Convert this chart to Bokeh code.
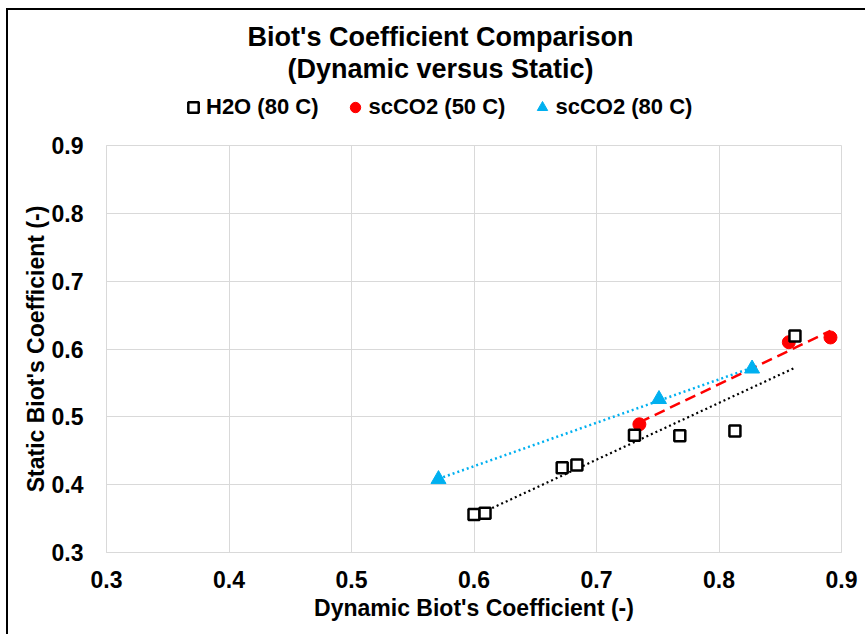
import numpy as np
from bokeh.plotting import figure
from bokeh.layouts import column
from bokeh.models import (Range1d, FixedTicker, PrintfTickFormatter, Label,
                          Legend, LegendItem)
from bokeh.embed import file_html
from bokeh.resources import INLINE

# ---- data ----
h2o_x = [0.600, 0.609, 0.672, 0.684, 0.731, 0.768, 0.813, 0.862]
h2o_y = [0.356, 0.358, 0.425, 0.429, 0.473, 0.472, 0.479, 0.619]
co2_50_x = [0.735, 0.857, 0.891]
co2_50_y = [0.489, 0.610, 0.617]
co2_80_x = [0.571, 0.751, 0.827]
co2_80_y = [0.408, 0.526, 0.571]
ticks = [0.3, 0.4, 0.5, 0.6, 0.7, 0.8, 0.9]

title_1 = "Biot's Coefficient Comparison"
title_2 = "(Dynamic versus Static)"
names = ["H2O (80 C)", "scCO2 (50 C)", "scCO2 (80 C)"]

FONT = "Liberation Sans"
GRID = "#d9d9d9"
RED = "#ff0000"
BLUE = "#00b0f0"

SQ = dict(marker="square", fill_color="white", line_color="black", line_width=2.5)
CI = dict(marker="circle", fill_color=RED, line_color=RED, line_width=1)
TR = dict(marker="triangle", fill_color=BLUE, line_color=BLUE, line_width=1)

# ---------------- header: title + legend ----------------
W = 857
HEAD_H = 115
head = figure(width=W, height=HEAD_H, output_backend="svg", toolbar_location=None,
              x_range=Range1d(1000, 1000 + W), y_range=Range1d(1000, 1000 + HEAD_H),
              x_axis_type=None, y_axis_type=None, title=None,
              min_border=0, min_border_left=0, min_border_right=0,
              min_border_top=0, min_border_bottom=0)
head.outline_line_color = None
head.xgrid.visible = False
head.ygrid.visible = False

# legend renderers (series data lie outside this header's ranges)
h_sq = head.scatter(h2o_x, h2o_y, size=11, **SQ)
h_ci = head.scatter(co2_50_x, co2_50_y, size=13, **CI)
h_tr = head.scatter(co2_80_x, co2_80_y, size=15, **TR)

legend = Legend(items=[LegendItem(label=names[0], renderers=[h_sq]),
                       LegendItem(label=names[1], renderers=[h_ci]),
                       LegendItem(label=names[2], renderers=[h_tr])],
                orientation="horizontal", location=(74, 5),
                padding=0, margin=0, spacing=24,
                glyph_width=26, glyph_height=26, label_height=22,
                label_standoff=0, border_line_color=None,
                background_fill_alpha=0,
                label_text_font=FONT, label_text_font_size="22px",
                label_text_font_style="bold", label_text_color="black",
                label_text_baseline="middle")
head.add_layout(legend, "center")

for txt, yy in ((title_1, 89), (title_2, 57)):
    head.add_layout(Label(x=334, y=yy, x_units="screen", y_units="screen",
                          text=txt, text_font=FONT, text_font_size="27px",
                          text_font_style="bold", text_align="center",
                          text_baseline="middle", text_color="black"))

# ---------------- main scatter chart ----------------
p = figure(width=W, height=624 - HEAD_H, output_backend="svg", toolbar_location=None,
           x_range=Range1d(0.3, 0.9), y_range=Range1d(0.3, 0.9),
           min_border_left=98, min_border_right=24, min_border_top=20,
           min_border_bottom=82, title=None)
p.outline_line_color = GRID

for ax in (p.xaxis[0], p.yaxis[0]):
    ax.ticker = FixedTicker(ticks=ticks)
    ax.formatter = PrintfTickFormatter(format="%.1f")
    ax.major_tick_line_color = None
    ax.minor_tick_line_color = None
    ax.axis_line_color = GRID
    ax.major_label_text_font = FONT
    ax.major_label_text_font_size = "23px"
    ax.major_label_text_font_style = "bold"
    ax.major_label_text_color = "black"
    ax.axis_label_text_font = FONT
    ax.axis_label_text_font_size = "23px"
    ax.axis_label_text_font_style = "bold"
    ax.axis_label_text_color = "black"

p.xaxis.axis_label = "Dynamic Biot's Coefficient (-)"
p.yaxis.axis_label = "Static Biot's Coefficient (-)"
p.xaxis.major_label_standoff = 12
p.xaxis.axis_label_standoff = 4
p.yaxis.major_label_standoff = 17
p.yaxis.axis_label_standoff = 0

for g in (p.xgrid[0], p.ygrid[0]):
    g.ticker = FixedTicker(ticks=ticks)
    g.grid_line_color = GRID
    g.grid_line_width = 1

# linear trendlines (least squares over each series)
def trend(xs, ys):
    m, b = np.polyfit(xs, ys, 1)
    x0, x1 = min(xs), max(xs)
    return [x0, x1], [m * x0 + b, m * x1 + b]

tx, ty = trend(h2o_x, h2o_y)
p.line(tx, ty, line_color="black", line_width=2.2, line_dash="2 3")
tx, ty = trend(co2_80_x, co2_80_y)
p.line(tx, ty, line_color=BLUE, line_width=2.5, line_dash="2 3")
tx, ty = trend(co2_50_x, co2_50_y)
p.line(tx, ty, line_color=RED, line_width=2.5, line_dash="11 6")

p.scatter(co2_80_x, co2_80_y, size=15, **TR)
p.scatter(co2_50_x, co2_50_y, size=13, **CI)
p.scatter(h2o_x, h2o_y, size=11, **SQ)

layout = column(head, p, spacing=0)
layout.styles = {"margin-left": "6px", "margin-top": "8px",
                 "border-left": "2px solid black", "border-top": "2px solid black"}

open("out.html", "w").write(file_html(layout, INLINE))
